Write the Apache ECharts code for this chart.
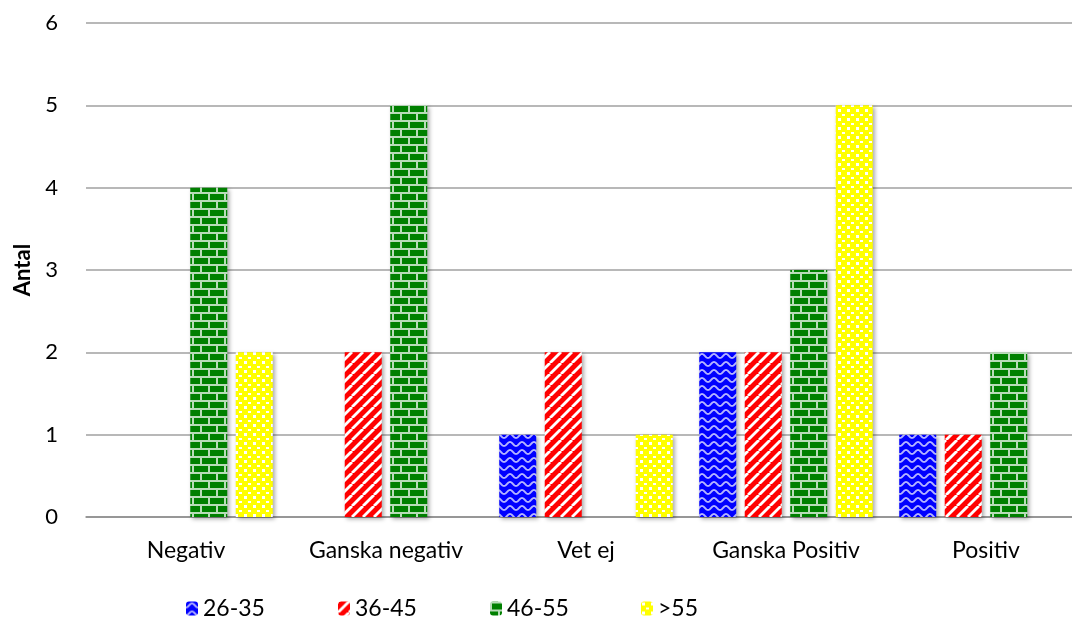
<!DOCTYPE html>
<html>
<head>
<meta charset="utf-8">
<script src="https://cdn.jsdelivr.net/npm/echarts@6/dist/echarts.min.js"></script>
<style>
  html, body { margin: 0; padding: 0; background: #fff; }
  #chart { width: 1072px; height: 623px; }
</style>
</head>
<body>
<div id="chart"></div>
<script>
const categories = ['Negativ', 'Ganska negativ', 'Vet ej', 'Ganska Positiv', 'Positiv'];
const seriesNames = ['26-35', '36-45', '46-55', '>55'];
const age2635 = [0, 0, 1, 2, 1];
const age3645 = [0, 2, 2, 2, 1];
const age4655 = [4, 5, 0, 3, 2];
const age55plus = [2, 0, 1, 5, 0];
const yTicks = [0, 1, 2, 3, 4, 5, 6];

// small canvas tiles used as fill patterns
function tile(w, h, draw) {
  const c = document.createElement('canvas');
  c.width = w; c.height = h;
  draw(c.getContext('2d'), w, h);
  return c;
}

const wave = tile(12, 8, (g, w, h) => {
  g.fillStyle = '#0000ff';
  g.fillRect(0, 0, w, h);
  g.strokeStyle = '#b4b4ff';
  g.lineWidth = 1.8;
  g.beginPath();
  for (let x = 0; x <= w; x += 0.5) {
    const y = 4 + 2 * Math.cos(2 * Math.PI * x / w);
    if (x === 0) g.moveTo(x, y); else g.lineTo(x, y);
  }
  g.stroke();
});

const stripes = tile(11, 11, (g, w, h) => {
  g.fillStyle = '#ff0000';
  g.fillRect(0, 0, w, h);
  g.strokeStyle = '#ffffff';
  g.lineWidth = 2.8;
  [-w, 0, w].forEach(o => {
    g.beginPath();
    g.moveTo(o, h);
    g.lineTo(o + w, 0);
    g.stroke();
  });
});

const bricks = tile(16, 16, (g, w, h) => {
  g.fillStyle = '#008000';
  g.fillRect(0, 0, w, h);
  g.fillStyle = '#b8dcb8';
  g.fillRect(0, 0, w, 2);
  g.fillRect(0, 8, w, 2);
  g.fillRect(0, 0, 2, 8);
  g.fillRect(8, 8, 2, 8);
});

const dots = tile(9, 9, (g, w, h) => {
  g.fillStyle = '#ffff00';
  g.fillRect(0, 0, w, h);
  g.fillStyle = '#ffffff';
  g.fillRect(1, 1, 3, 3);
  g.fillRect(5, 6, 3, 2);
});

const patterns = [wave, stripes, bricks, dots];
const values = [age2635, age3645, age4655, age55plus];
const legendLeft = [181, 333, 485, 636];

const chart = echarts.init(document.getElementById('chart'));

const option = {
  animation: false,
  grid: { left: 86, top: 23, width: 1000, height: 494, containLabel: false, outerBoundsMode: 'none' },
  legend: seriesNames.map((n, i) => ({
    data: [n],
    left: legendLeft[i],
    top: 592,
    itemWidth: 12,
    itemHeight: 14,
    itemGap: 4,
    textStyle: { fontFamily: 'Lato', fontSize: 23, color: '#000' }
  })),
  xAxis: [
    {
      type: 'category',
      data: categories,
      axisLine: { lineStyle: { color: '#8c8c8c', width: 1.5 } },
      axisTick: { length: 7, lineStyle: { color: '#8c8c8c', width: 1.5 } },
      axisLabel: { fontFamily: 'Lato', fontSize: 23, color: '#000', margin: 22, interval: 0, hideOverlap: false }
    },
    {
      type: 'category',
      data: categories,
      position: 'bottom',
      axisLine: { show: false },
      axisTick: { inside: true, length: 7, lineStyle: { color: '#8c8c8c', width: 1.5 } },
      axisLabel: { show: false }
    }
  ],
  yAxis: {
    type: 'value',
    min: 0,
    max: 6,
    interval: 1,
    name: 'Antal',
    nameLocation: 'middle',
    nameGap: 48,
    nameTextStyle: { fontFamily: 'Lato', fontWeight: 'bold', fontSize: 22, color: '#000' },
    axisLine: { show: false },
    axisTick: { show: false },
    axisLabel: {
      fontFamily: 'Lato', fontSize: 22, color: '#000', margin: 28,
      formatter: v => yTicks.includes(v) ? String(v) : ''
    },
    splitLine: { lineStyle: { color: '#a0a0a0', width: 1.5 } }
  },
  series: seriesNames.map((n, i) => ({
    name: n,
    type: 'bar',
    data: values[i],
    barWidth: 37,
    barGap: '23%',
    itemStyle: {
      color: { image: patterns[i], repeat: 'repeat' },
      shadowColor: 'rgba(0,0,0,0.35)',
      shadowBlur: 4,
      shadowOffsetX: 2,
      shadowOffsetY: 2
    }
  }))
};

chart.setOption(option);
</script>
</body>
</html>
